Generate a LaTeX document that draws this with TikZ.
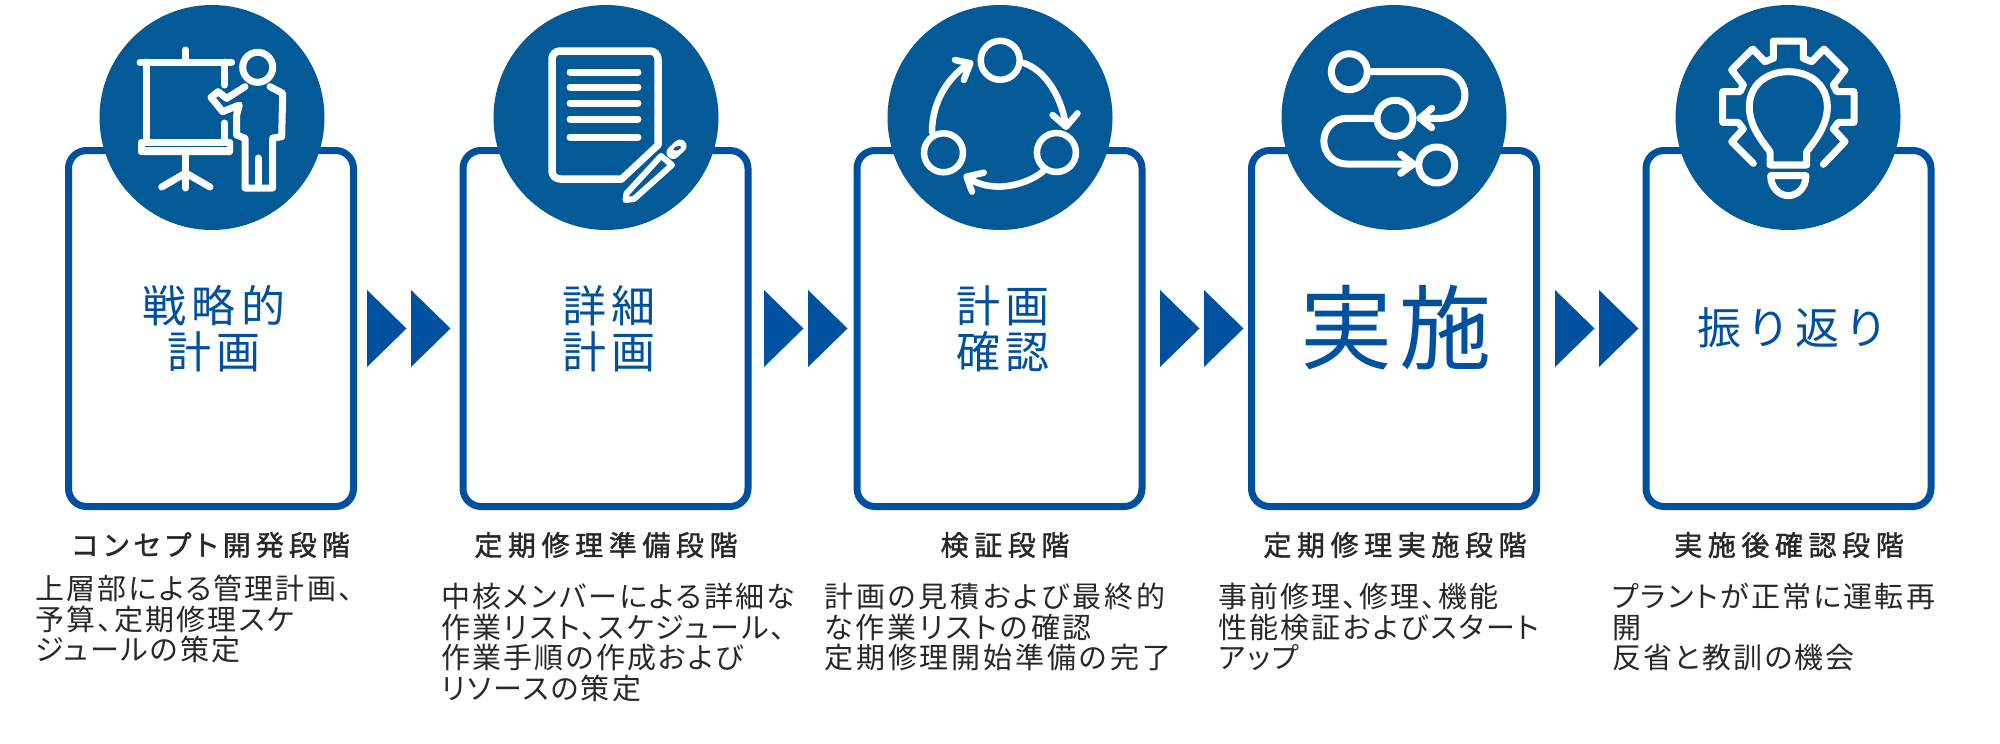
\documentclass[tikz,border=0pt]{standalone}
\usepackage{fontspec}
\newfontfamily\cjkbody[RawFeature={+palt},LetterSpace=7.5]{Noto Sans CJK JP}
\newfontfamily\cjkbodywide[RawFeature={+palt},LetterSpace=10]{Noto Sans CJK JP}
\newfontfamily\cjkhead[RawFeature={+palt},LetterSpace=20,FakeBold=1.4]{Noto Sans CJK JP}
\newfontfamily\cjkheadkana[RawFeature={+palt},LetterSpace=18,FakeBold=1.4]{Noto Sans CJK JP}
\newfontfamily\cjktitle[LetterSpace=12]{Noto Sans CJK JP}
\newfontfamily\cjkbig[LetterSpace=8]{Noto Sans CJK JP}
\definecolor{boxblue}{HTML}{0050A0}
\definecolor{discblue}{HTML}{045A96}
\definecolor{ink}{HTML}{2B2727}
\tikzset{
  stagebox/.style={draw=boxblue,line width=7pt,fill=white,rounded corners=18pt,minimum width=285pt,minimum height=356pt,inner sep=0pt},
  disc/.style={circle,fill=discblue,minimum size=225pt,inner sep=0pt},
  titletxt/.style={inner sep=0pt,align=center,text=boxblue,font=\cjktitle\fontsize{44}{46}\selectfont},
  bigtxt/.style={inner sep=0pt,align=center,text=boxblue,font=\cjkbig\fontsize{92}{96}\selectfont},
  headtxt/.style={inner sep=0pt,text=ink,font=\cjkhead\fontsize{28}{30}\selectfont},
  bodytxt/.style={inner sep=0pt,anchor=north west,align=left,text=ink,font=\cjkbody\fontsize{29}{30.6}\selectfont},
  iconline/.style={draw=white,line width=7pt,line cap=round,line join=round},
  tri/.style={fill=boxblue,draw=none}
}
\newcommand{\dblarrow}[1]{%
  \fill[tri] (#1,290) -- ++(39.5,38.5) -- ++(-39.5,38.5) -- cycle;
  \fill[tri] (#1+44,290) -- ++(39.5,38.5) -- ++(-39.5,38.5) -- cycle;
}
\begin{document}
\begin{tikzpicture}[x=1pt,y=-1pt]
\useasboundingbox (0,0) rectangle (2000,744);
\fill[white] (0,0) rectangle (2000,744);
% boxes and discs
\foreach \n/\bx/\cx in {1/211/212,2/605.5/606,3/999.5/1000,4/1394/1394,5/1788.5/1788}{
  \node[stagebox] (box\n) at (\bx,328.5) {};
  \node[disc] (disc\n) at (\cx,117.5) {};
}
% double arrows
\dblarrow{367}\dblarrow{764}\dblarrow{1160}\dblarrow{1555}
% titles
\node[titletxt] (t1) at (214,329) {戦略的\\計画};
\node[titletxt] (t2) at (609,329) {詳細\\計画};
\node[titletxt] (t3) at (1003,329) {計画\\確認};
\node[bigtxt] (t4) at (1396,328) {実施};
\node[titletxt] (t5) at (1793,328) {振り返り};
% headings
\node[headtxt,font=\cjkheadkana\fontsize{28}{30}\selectfont] (h1) at (211,545) {コンセプト開発段階};
\node[headtxt] (h2) at (606,545) {定期修理準備段階};
\node[headtxt] (h3) at (1005,545) {検証段階};
\node[headtxt] (h4) at (1395,545) {定期修理実施段階};
\node[headtxt] (h5) at (1789,545) {実施後確認段階};
% bodies
\node[bodytxt] (b1) at (35,575) {上層部による管理計画、\\予算、定期修理スケ\\ジュールの策定};
\node[bodytxt] (b2) at (441,583) {中核メンバーによる詳細な\\作業リスト、スケジュール、\\作業手順の作成および\\リソースの策定};
\node[bodytxt,font=\cjkbodywide\fontsize{29}{30.6}\selectfont] (b3) at (824,583) {計画の見積および最終的\\な作業リストの確認\\定期修理開始準備の完了};
\node[bodytxt] (b4) at (1218,583) {事前修理、修理、機能\\性能検証およびスタート\\アップ};
\node[bodytxt] (b5) at (1612,583) {プラントが正常に運転再\\開\\反省と教訓の機会};
% icon 1: presenter
\draw[iconline] (140,62.3) -- (231.7,62.3);
\draw[iconline] (185.7,50) -- (185.7,60);
\draw[iconline] (146.7,62) -- (146.7,140);
\draw[iconline] (224.3,62) -- (224.3,85);
\draw[iconline] (224.3,123) -- (224.3,140);
\fill[white,rounded corners=3pt] (138,139) rectangle (233,155);
\draw[discblue,line width=1.2pt] (145,146.7) -- (227,146.7);
\draw[iconline] (185.7,155) -- (185.7,188);
\draw[iconline] (161.7,187) -- (185.7,173) -- (210,187);
\draw[iconline] (257.7,67.3) circle (15);
\draw[iconline] (245,86.7) -- (226.7,98.3) -- (218,91.7) -- (211,97.3) -- (222.7,111.7) -- (239.3,105) -- (236.7,115) -- (236.7,135) -- (245,138.3) -- (245,188) -- (272.7,188) -- (272.7,138) -- (281.7,136.7) -- (282.7,93.3) -- (270,86.7);
\draw[iconline] (258,158) -- (258,188);
% icon 2: document and pencil
\draw[iconline,line width=7.5pt,rounded corners=8pt] (621.7,179) -- (552,179) -- (552,51) -- (658,51) -- (658,145);
\draw[iconline] (658,145) -- (621.7,179);
\foreach \y in {72,87,103,119,137}{\draw[iconline] (570,\y) -- (638,\y);}
\draw[iconline,line width=6pt] (625.5,200) -- (626.5,193.5) -- (661,156) -- (672,165) -- (634,199) -- cycle;
\draw[white,line width=13pt,line cap=round] (673,152.5) -- (680,146);
\fill[discblue,rotate around={20:(677.3,148.3)}] (677.3,148.3) ellipse (4 and 2);
% icon 3: cycle
\draw[iconline,line width=6.5pt] (1000.2,60.3) circle (19.5);
\draw[iconline,line width=6.5pt] (943.5,152.8) circle (19.5);
\draw[iconline,line width=6.5pt] (1056.4,152.5) circle (19.5);
\draw[iconline,line width=6.5pt] (932,132) .. controls (932,100) and (950,75) .. (970,63);
\draw[iconline,line width=6.5pt] (955,60) -- (970.3,63.3) -- (963.8,80);
\draw[iconline,line width=6.5pt] (1024,63) .. controls (1048,72) and (1062,100) .. (1066,126);
\draw[iconline,line width=6.5pt] (1052.6,115) -- (1066,126.7) -- (1077.5,113.3);
\draw[iconline,line width=6.5pt] (1043,171.5) .. controls (1025,186) and (990,194) .. (967,177);
\draw[iconline,line width=6.5pt] (983.7,172.7) -- (966.5,176.7) -- (972,191.7);
% icon 4: route
\draw[iconline] (1349.3,71.7) circle (18);
\draw[iconline] (1395,118.3) circle (18);
\draw[iconline] (1436.7,165) circle (18);
\draw[iconline] (1371.7,71.7) -- (1441.7,71.7) arc[start angle=-90,end angle=90,radius=23.3] -- (1420,118.3);
\draw[iconline] (1431.7,108.3) -- (1420,118.3) -- (1431.7,127.7);
\draw[iconline] (1375,118.3) -- (1346.7,118.3) arc[start angle=-90,end angle=-270,radius=22.85] -- (1413.3,164);
\draw[iconline] (1400.7,154.3) -- (1413.3,164) -- (1400.7,173.3);
% icon 5: gear and bulb
\begin{scope}[shift={(1710,35)},x=0.33333pt,y=-0.33333pt]
\draw[iconline] (130,385) -- (65,320) -- (100,282) -- (85,262) -- (38,262) -- (38,170) -- (90,170) -- (100,150) -- (65,105) -- (128,42) -- (165,80) -- (190,70) -- (190,18) -- (280,18) -- (280,70) -- (305,80) -- (342,42) -- (405,105) -- (370,150) -- (380,170) -- (432,170) -- (432,262) -- (385,262) -- (370,282) -- (405,320) -- (340,388);
\draw[iconline] (180,390) -- (180,350) .. controls (150,310) and (118,270) .. (118,215) .. controls (118,150) and (170,110) .. (235,110) .. controls (300,110) and (352,150) .. (352,215) .. controls (352,270) and (320,310) .. (290,350) -- (290,390) -- cycle;
\draw[iconline] (182,422) -- (288,422) .. controls (288,460) and (260,482) .. (235,482) .. controls (210,482) and (182,460) .. (182,422) -- cycle;
\end{scope}
\end{tikzpicture}
\end{document}
